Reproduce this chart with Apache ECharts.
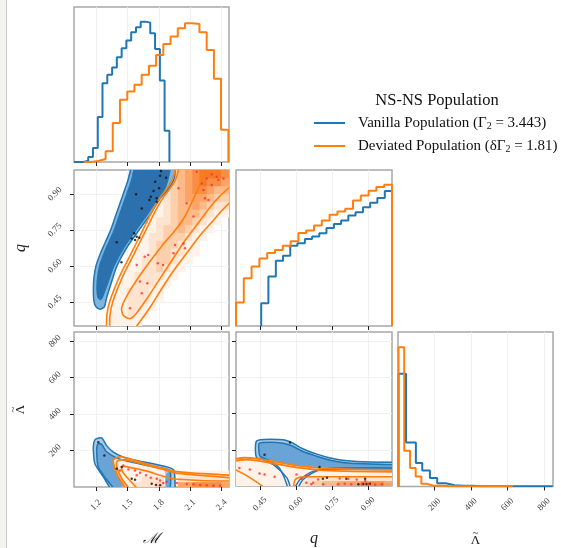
<!DOCTYPE html>
<html><head><meta charset="utf-8">
<script src="https://cdn.jsdelivr.net/npm/echarts@6/dist/echarts.min.js"></script>
<style>html,body{margin:0;padding:0;background:#fff}#c{width:561px;height:548px}</style>
</head><body><div id="c"></div>
<script>
// ---------- tick labels ----------
const mTicks = [1.2, 1.5, 1.8, 2.1, 2.4];
const qTicks = [0.45, 0.60, 0.75, 0.90];
const lamTicks = [200, 400, 600, 800];
const mRange = [0.99, 2.47];
const qRange = [0.35, 1.0];
const lamRange = [0, 850];

// ---------- 1D histograms (bin edges + heights) ----------
const vanMEdges = [0.99, 1.080, 1.126, 1.171, 1.217, 1.262, 1.308, 1.354, 1.399, 1.445, 1.490, 1.536, 1.582, 1.627, 1.673, 1.718, 1.764, 1.810, 1.855, 1.901];
const vanMCounts = [0, 4, 15, 42, 135, 237, 262, 284, 315, 342, 365, 390, 405, 422, 419, 387, 340, 245, 94];
const devMEdges = [1.085, 1.153, 1.222, 1.292, 1.360, 1.429, 1.499, 1.567, 1.636, 1.706, 1.774, 1.843, 1.912, 1.981, 2.050, 2.119, 2.188, 2.257, 2.326, 2.394, 2.464];
const devMCounts = [0, 3, 9, 32, 117, 187, 212, 232, 262, 289, 322, 355, 377, 402, 417, 415, 390, 337, 250, 97];

const vanQEdges = [0.455, 0.485, 0.516, 0.546, 0.576, 0.606, 0.637, 0.667, 0.697, 0.727, 0.758, 0.788, 0.818, 0.848, 0.879, 0.909, 0.939, 0.970, 1.0];
const vanQCounts = [68, 148, 195, 210, 240, 247, 260, 267, 277, 293, 305, 315, 330, 340, 355, 368, 382, 403];
const devQEdges = [0.350, 0.3825, 0.415, 0.4475, 0.480, 0.5125, 0.545, 0.5775, 0.610, 0.6425, 0.675, 0.7075, 0.740, 0.7725, 0.805, 0.8375, 0.870, 0.9025, 0.935, 0.9675, 1.0];
const devQCounts = [70, 143, 178, 202, 218, 227, 240, 253, 278, 285, 300, 315, 332, 342, 350, 375, 390, 404, 415, 422];

const vanLamEdges = [3, 44, 98, 133, 175, 215, 263, 311, 360, 410, 460, 510, 560, 610, 660, 710, 760, 810, 848];
const vanLamCounts = [340, 133, 71, 48, 26, 10, 4, 2, 2, 1, 1, 1, 1, 1, 1, 1, 1, 1];
const devLamEdges = [3, 34, 66, 97, 128, 160, 191, 222, 253, 285, 316, 347, 379, 410, 441, 473, 504, 535, 566, 598, 629];
const devLamCounts = [420, 108, 56, 30, 8, 3, 2, 2, 1, 1, 1, 1, 1, 1, 1, 1, 1, 1, 1, 1];
const histMax = 466;

// ---------- 2D: deviated population density grids (intensity 0..7) ----------
const heatMEdges = devMEdges.slice(1);
const heatQEdges = devQEdges;
const heatLamEdges = [0, 30, 60, 90, 120, 150];
// rows: q bins (bottom -> top), cols: M bins
const devMqGrid = [
 [0,0,1,1,1,1,1,0,0,0,0,0,0,0,0,0,0,0,0],
 [0,0,1,1,1,2,1,1,0,0,0,0,0,0,0,0,0,0,0],
 [0,0,0,1,1,2,2,1,1,0,0,0,0,0,0,0,0,0,0],
 [0,0,0,1,1,2,2,2,1,1,0,0,0,0,0,0,0,0,0],
 [0,0,0,0,1,2,2,2,1,1,0,0,0,0,0,0,0,0,0],
 [0,0,0,0,1,1,2,2,2,1,1,0,0,0,0,0,0,0,0],
 [0,0,0,0,0,1,2,2,2,2,1,1,0,0,0,0,0,0,0],
 [0,0,0,0,0,1,1,2,2,3,2,1,1,0,0,0,0,0,0],
 [0,0,0,0,0,0,1,2,2,3,3,2,1,1,0,0,0,0,0],
 [0,0,0,0,0,0,1,1,2,3,3,2,2,1,1,0,0,0,0],
 [0,0,0,0,0,0,0,1,2,3,3,3,2,1,1,0,0,0,0],
 [0,0,0,0,0,0,0,1,2,2,3,3,3,2,1,1,0,0,0],
 [0,0,0,0,0,0,0,0,1,2,3,3,4,3,2,1,1,0,0],
 [0,0,0,0,0,0,0,0,1,2,2,3,4,4,3,2,1,1,0],
 [0,0,0,0,0,0,0,0,1,1,2,3,4,4,4,3,2,1,1],
 [0,0,0,0,0,0,0,0,0,1,2,3,4,4,5,4,3,2,2],
 [0,0,0,0,0,0,0,0,0,1,2,3,4,5,5,5,4,3,3],
 [0,0,0,0,0,0,0,0,0,0,2,3,4,5,6,6,5,4,4],
 [0,0,0,0,0,0,0,0,0,0,1,3,4,5,6,7,6,6,5],
 [0,0,0,0,0,0,0,0,0,0,0,3,4,5,6,7,7,7,6]
];
// rows: Lambda bins (bottom -> top), cols: M bins
const devMLamGrid = [
 [0,0,0,0,1,1,2,2,2,3,0,0,5,5,6,6,6,6,5],
 [0,0,0,1,1,1,1,2,2,2,0,0,2,2,2,2,2,2,2],
 [0,0,0,1,1,1,1,1,1,1,1,1,1,1,1,1,1,1,1],
 [0,0,0,1,1,1,1,1,1,1,1,0,0,0,0,0,0,0,0],
 [0,0,0,1,1,1,0,0,0,0,0,0,0,0,0,0,0,0,0]
];
// rows: Lambda bins (bottom -> top), cols: q bins
const devQLamGrid = [
 [1,1,1,1,1,1,1,1,2,2,3,4,4,5,5,5,6,6,6,5],
 [1,1,1,1,1,1,1,1,1,2,2,2,2,2,2,2,2,2,2,2],
 [1,1,1,1,1,1,1,1,1,1,1,1,1,1,1,1,1,1,1,1],
 [1,1,1,1,1,1,1,1,1,1,0,0,0,0,0,0,0,0,0,0],
 [1,1,1,1,1,0,0,0,0,0,0,0,0,0,0,0,0,0,0,0]
];

// ---------- 2D contours (data coordinates) ----------
const vanMqOuter = [[1.535,1.005],[1.50,0.95],[1.46,0.90],[1.42,0.85],[1.38,0.80],[1.34,0.75],[1.29,0.70],[1.24,0.65],[1.20,0.60],[1.18,0.55],[1.175,0.50],[1.18,0.455],[1.20,0.43],[1.24,0.42],[1.28,0.43],[1.30,0.465],[1.35,0.535],[1.40,0.60],[1.49,0.674],[1.60,0.743],[1.71,0.81],[1.81,0.88],[1.87,0.91],[1.92,0.94],[1.95,0.97],[1.955,1.005]];
const vanMqInner = [[1.57,1.005],[1.535,0.95],[1.495,0.90],[1.455,0.85],[1.415,0.80],[1.375,0.75],[1.325,0.70],[1.275,0.65],[1.235,0.60],[1.215,0.55],[1.21,0.50],[1.22,0.47],[1.245,0.46],[1.265,0.475],[1.32,0.54],[1.37,0.60],[1.46,0.674],[1.57,0.743],[1.68,0.81],[1.78,0.875],[1.84,0.91],[1.88,0.95],[1.905,1.005]];
const devMqOuterLeftA = [[1.30,0.345],[1.305,0.40],[1.33,0.45],[1.38,0.51],[1.44,0.57],[1.51,0.63],[1.59,0.70],[1.67,0.77],[1.75,0.84],[1.82,0.89],[1.88,0.925],[1.93,0.96],[1.96,1.005]];
const devMqOuterLeftB = [[1.33,0.345],[1.335,0.40],[1.36,0.45],[1.41,0.51],[1.47,0.57],[1.54,0.63],[1.62,0.70],[1.70,0.77],[1.78,0.84],[1.85,0.89],[1.91,0.925],[1.96,0.96],[1.99,1.005]];
const devMqOuterRight = [[1.58,0.345],[1.64,0.38],[1.72,0.43],[1.82,0.50],[1.94,0.58],[2.06,0.65],[2.18,0.72],[2.30,0.78],[2.40,0.83],[2.48,0.865]];
const devMqInner = [[2.22,1.005],[2.19,0.94],[2.13,0.88],[2.04,0.80],[1.94,0.74],[1.84,0.69],[1.65,0.58],[1.50,0.48],[1.445,0.425],[1.46,0.395],[1.52,0.38],[1.58,0.40],[1.68,0.46],[1.80,0.54],[1.92,0.62],[2.04,0.70],[2.16,0.77],[2.28,0.84],[2.38,0.89],[2.48,0.93]];

const vanMLamFillOuter = [[1.334,0],[1.27,55],[1.19,127],[1.175,200],[1.18,245],[1.20,264],[1.254,269],[1.302,227],[1.366,191],[1.461,164],[1.589,145],[1.748,127],[1.907,105],[1.945,91],[1.955,0],[1.86,0],[1.86,80],[1.812,105],[1.652,131],[1.493,160],[1.414,164],[1.366,149],[1.376,109],[1.414,55],[1.48,0]];
const vanMLamFillInner = [[1.366,0],[1.296,45],[1.222,109],[1.207,182],[1.213,233],[1.251,236],[1.296,196],[1.366,170],[1.40,160],[1.366,149],[1.376,109],[1.414,55],[1.45,0]];
const vanMLamFillInner2 = [[1.87,0],[1.87,70],[1.91,82],[1.91,0]];
const vanMLamOuter = [[1.334,-5],[1.27,55],[1.19,127],[1.175,200],[1.18,245],[1.20,264],[1.254,269],[1.302,227],[1.366,191],[1.461,164],[1.589,145],[1.748,127],[1.907,105],[1.945,91],[1.955,-5]];
const vanMLamInner = [[1.366,-5],[1.296,45],[1.222,109],[1.207,182],[1.213,233],[1.251,236],[1.296,196],[1.382,164],[1.493,142],[1.684,118],[1.875,98],[1.91,82],[1.91,-5]];
const devMLamOuterA = [[1.48,-5],[1.414,55],[1.376,109],[1.366,149],[1.414,164],[1.493,160],[1.652,131],[1.812,105],[1.939,87],[2.13,76],[2.48,65]];
const devMLamOuterB = [[1.512,-5],[1.446,45],[1.404,100],[1.398,138],[1.446,149],[1.525,145],[1.684,120],[1.843,96],[1.955,78],[2.13,67],[2.48,51]];
const devMLamInner = [[1.589,-5],[1.509,45],[1.456,82],[1.446,113],[1.509,109],[1.684,87],[1.812,64],[1.939,45],[2.194,36],[2.48,33]];

const vanQLamFillOuter = [[0.431,191],[0.434,245],[0.451,255],[0.493,258],[0.547,255],[0.582,240],[0.631,204],[0.687,176],[0.743,155],[0.813,140],[0.911,133],[1.005,131],[1.005,89],[0.743,96],[0.605,113],[0.493,138],[0.437,151],[0.433,160]];
const vanQLamFillInner = [[0.447,236],[0.493,242],[0.547,236],[0.582,222],[0.631,189],[0.687,164],[0.743,142],[0.813,127],[1.005,118],[1.005,92],[0.743,99],[0.605,116],[0.493,141],[0.451,152],[0.445,200]];
const vanQLamOuter = [[1.005,131],[0.911,133],[0.813,140],[0.743,155],[0.687,176],[0.631,204],[0.582,240],[0.547,255],[0.493,258],[0.451,255],[0.434,245],[0.431,191],[0.437,155],[0.464,145],[0.506,118],[0.562,45],[0.576,-5]];
const vanQLamOuterLow = [[0.597,-5],[0.617,36],[0.674,82],[0.743,91],[1.005,91]];
const vanQLamInner = [[1.005,118],[0.813,127],[0.743,142],[0.687,164],[0.631,189],[0.582,222],[0.547,236],[0.493,242],[0.447,236],[0.445,200],[0.451,164],[0.49,140],[0.53,100],[0.55,50],[0.565,-5]];
const vanQLamInnerLow = [[0.61,-5],[0.63,36],[0.69,85],[0.76,98],[1.005,100]];
const devQLamOuterA = [[0.345,149],[0.386,156],[0.437,151],[0.493,138],[0.605,113],[0.743,96],[1.005,89]];
const devQLamOuterB = [[0.345,138],[0.386,145],[0.437,140],[0.493,127],[0.605,102],[0.743,85],[1.005,78]];
const devQLamInnerA = [[0.345,91],[0.386,64],[0.43,27],[0.464,-5]];
const devQLamInnerB = [[0.59,-5],[0.597,36],[0.62,49],[0.7,51],[1.005,51]];

// ---------- samples ----------
const vanMqPts = [[1.821,0.996],[1.812,0.976],[1.869,0.968],[1.765,0.951],[1.803,0.924],[1.749,0.913],[1.723,0.889],[1.780,0.882],[1.710,0.875],[1.583,0.899],[1.780,0.868],[1.637,0.840],[1.564,0.736],[1.589,0.722],[1.541,0.715],[1.573,0.708],[1.614,0.718],[1.398,0.699],[1.443,0.616]];
const devMqPts = [[2.162,0.993],[2.305,0.982],[2.353,0.972],[2.257,0.965],[2.210,0.944],[2.305,0.938],[2.226,0.917],[2.369,0.958],[2.417,0.965],[2.241,0.882],[2.273,0.875],[2.066,0.861],[1.987,0.924],[2.130,0.806],[2.035,0.694],[1.955,0.688],[1.940,0.653],[2.050,0.674],[1.840,0.604],[1.790,0.611],[1.665,0.639],[1.697,0.646],[1.589,0.604],[1.620,0.535],[1.690,0.528],[1.637,0.486],[1.525,0.424]];
const vanMLamPts = [[1.222,245],[1.28,173],[1.446,109],[1.541,45],[1.573,40],[1.732,18],[1.773,11],[1.812,9],[1.398,100]];
const devMLamPts = [[1.461,118],[1.509,96],[1.573,91],[1.621,78],[1.678,64],[1.723,51],[1.780,45],[1.812,36],[1.875,29],[1.971,22],[2.066,16],[2.130,15],[2.194,11],[2.257,9],[2.321,7],[2.385,7],[1.589,64],[1.43,91],[1.843,22]];
const vanQLamPts = [[0.575,240],[0.469,173],[0.698,105],[0.712,40],[0.729,45],[0.81,40],[0.888,40],[0.86,9],[0.88,11],[0.894,11],[0.908,13]];
const devQLamPts = [[0.364,100],[0.408,91],[0.448,69],[0.469,64],[0.511,51],[0.602,64],[0.643,58],[0.623,40],[0.643,18],[0.671,18],[0.713,9],[0.692,36],[0.782,42],[0.818,40],[0.853,36],[0.888,27],[0.775,9],[0.83,9],[0.874,11],[0.902,9],[0.93,7],[0.958,9],[0.803,13],[0.664,9]];

// ---------- styling ----------
const BLUE = '#1f77b4', ORANGE = '#ff7f0e';
const heatColors = ['rgba(0,0,0,0)', '#fff2e8', '#fee3ce', '#fdd0ac', '#fdb987', '#fca365', '#f98d44', '#f27b28'];
const SERIF = "'Liberation Serif','DejaVu Serif',serif";
const LAM_NAME = '{t|~}\n{l|Λ}';
const lamRich = {t:{fontFamily:SERIF, fontSize:11, lineHeight:3, color:'#222'}, l:{fontFamily:SERIF, fontSize:13, lineHeight:12, color:'#222'}};

const grids = [
  {left:74, top:7, width:155, height:155},
  {left:74, top:170, width:155, height:156},
  {left:74, top:332, width:155, height:156},
  {left:236, top:170, width:156, height:156},
  {left:236, top:332, width:156, height:156},
  {left:398, top:332, width:155, height:156}
].map(g => Object.assign(g, {show:true, borderColor:'#a8a8a8', borderWidth:1.5, backgroundColor:'rgba(0,0,0,0)'}));

function fmt(d){ return v => Number(v).toFixed(d); }
function valAxis(gi, range, ticks, f, showLabel, isY, name, nameStyle, gap){
  const a = {
    type:'value', gridIndex:gi, min:range[0], max:range[1],
    axisLine:{show:false},
    axisTick:{show:true, length:4, customValues:ticks, lineStyle:{color:'#222', width:1}},
    axisLabel:{show:showLabel, customValues:ticks, formatter:f, rotate:45, align:'center', verticalAlign:'middle',
      margin: isY ? 19 : 18, fontFamily:SERIF, fontSize:9, color:'#444'},
    splitLine:{show:true, lineStyle:{color:'#ededed', width:0.8}}
  };
  if (name) {
    a.name = name; a.nameLocation = 'middle'; a.nameGap = gap;
    if (isY) a.nameRotate = 90;
    a.nameTextStyle = Object.assign({fontFamily:SERIF, fontSize:15, color:'#222'}, nameStyle||{});
  }
  return a;
}
function histY(gi){ return {type:'value', gridIndex:gi, min:0, max:histMax, show:false}; }

const xAxes = [
  valAxis(0, mRange, mTicks, fmt(1), false, false),
  valAxis(1, mRange, mTicks, fmt(1), false, false),
  valAxis(2, mRange, mTicks, fmt(1), true, false, 'ℳ', {fontStyle:'italic', fontFamily:"'DejaVu Serif',serif", fontSize:15}, 45),
  valAxis(3, qRange, qTicks, fmt(2), false, false),
  valAxis(4, qRange, qTicks, fmt(2), true, false, 'q', {fontStyle:'italic', fontSize:16}, 45),
  valAxis(5, lamRange, lamTicks, fmt(0), true, false, LAM_NAME, {rich:lamRich}, 45)
];
const yAxes = [
  histY(0),
  valAxis(1, qRange, qTicks, fmt(2), true, true, 'q', {fontStyle:'italic', fontSize:16}, 45),
  valAxis(2, lamRange, lamTicks, fmt(0), true, true, LAM_NAME, {rich:lamRich}, 47),
  histY(3),
  valAxis(4, lamRange, lamTicks, fmt(0), false, true),
  histY(5)
];

function stepData(edges, counts){
  const d = [[edges[0], 0]];
  for (let i = 0; i < counts.length; i++) d.push([edges[i], counts[i]]);
  d.push([edges[counts.length], 0]);
  return d;
}
function hist(gi, name, edges, counts, color){
  return {type:'line', name:name, xAxisIndex:gi, yAxisIndex:gi, step:'end', symbol:'none', showSymbol:false,
    color:color, lineStyle:{color:color, width:2}, data:stepData(edges, counts), z:3, animation:false, silent:true, clip:true};
}
function polyFill(gi, pts, fill, z){
  return {type:'custom', xAxisIndex:gi, yAxisIndex:gi, clip:true, silent:true, animation:false, z:z, data:[[pts[0][0], pts[0][1]]],
    renderItem:(p, api) => ({type:'polygon', shape:{points:pts.map(d => api.coord(d)), smooth:0.25}, style:{fill:fill}})};
}
function polyLine(gi, pts, color, w, z){
  return {type:'custom', xAxisIndex:gi, yAxisIndex:gi, clip:true, silent:true, animation:false, z:z, data:[[pts[0][0], pts[0][1]]],
    renderItem:(p, api) => ({type:'polyline', shape:{points:pts.map(d => api.coord(d)), smooth:0.25}, style:{fill:null, stroke:color, lineWidth:w}})};
}
function heat(gi, xe, ye, grid){
  const items = [];
  for (let r = 0; r < grid.length; r++)
    for (let c = 0; c < grid[r].length; c++)
      if (grid[r][c] > 0) items.push([xe[c], ye[r], xe[c+1], ye[r+1], grid[r][c]]);
  return {type:'custom', xAxisIndex:gi, yAxisIndex:gi, clip:true, silent:true, animation:false, z:1,
    data:items, encode:{x:[0,2], y:[1,3]},
    renderItem:(p, api) => {
      const a = api.coord([api.value(0), api.value(1)]), b = api.coord([api.value(2), api.value(3)]);
      return {type:'rect', shape:{x:a[0], y:b[1], width:b[0]-a[0]+0.6, height:a[1]-b[1]+0.6}, style:{fill:heatColors[api.value(4)]}};
    }};
}
function dots(gi, pts, color, size){
  return {type:'scatter', xAxisIndex:gi, yAxisIndex:gi, data:pts, symbolSize:size, itemStyle:{color:color}, z:6, silent:true, animation:false, clip:true};
}

const series = [
  hist(0, 'vanilla', vanMEdges, vanMCounts, BLUE),
  hist(0, 'deviated', devMEdges, devMCounts, ORANGE),
  hist(3, 'vq', vanQEdges, vanQCounts, BLUE),
  hist(3, 'dq', devQEdges, devQCounts, ORANGE),
  hist(5, 'vl', vanLamEdges, vanLamCounts, BLUE),
  hist(5, 'dl', devLamEdges, devLamCounts, ORANGE),

  // M - q
  heat(1, heatMEdges, heatQEdges, devMqGrid),
  polyFill(1, vanMqOuter, '#80b3dd', 2),
  polyFill(1, vanMqInner, '#2d70ae', 2),
  polyLine(1, vanMqOuter, BLUE, 1.5, 3),
  polyLine(1, vanMqInner, BLUE, 1.5, 3),
  polyLine(1, devMqOuterLeftA, ORANGE, 1.6, 4),
  polyLine(1, devMqOuterLeftB, ORANGE, 1.6, 4),
  polyLine(1, devMqOuterRight, ORANGE, 1.6, 4),
  polyLine(1, devMqInner, ORANGE, 1.6, 4),
  dots(1, vanMqPts, '#111', 2.5),
  dots(1, devMqPts, '#ff3030', 2.5),

  // M - Lambda
  heat(2, heatMEdges, heatLamEdges, devMLamGrid),
  polyFill(2, vanMLamFillOuter, '#a9cbe8', 2),
  polyFill(2, vanMLamFillInner, '#6aa3d5', 2),
  polyFill(2, vanMLamFillInner2, '#6aa3d5', 2),
  polyLine(2, vanMLamOuter, BLUE, 1.5, 3),
  polyLine(2, vanMLamInner, BLUE, 1.5, 3),
  polyLine(2, devMLamOuterA, ORANGE, 1.8, 4),
  polyLine(2, devMLamOuterB, ORANGE, 1.8, 4),
  polyLine(2, devMLamInner, ORANGE, 1.6, 4),
  dots(2, vanMLamPts, '#111', 2.5),
  dots(2, devMLamPts, '#ff3030', 2.5),

  // q - Lambda
  heat(4, heatQEdges, heatLamEdges, devQLamGrid),
  polyFill(4, vanQLamFillOuter, '#a9cbe8', 2),
  polyFill(4, vanQLamFillInner, '#6aa3d5', 2),
  polyLine(4, vanQLamOuter, BLUE, 1.5, 3),
  polyLine(4, vanQLamOuterLow, BLUE, 1.5, 3),
  polyLine(4, vanQLamInner, BLUE, 1.5, 3),
  polyLine(4, vanQLamInnerLow, BLUE, 1.5, 3),
  polyLine(4, devQLamOuterA, ORANGE, 1.8, 4),
  polyLine(4, devQLamOuterB, ORANGE, 1.8, 4),
  polyLine(4, devQLamInnerA, ORANGE, 1.6, 4),
  polyLine(4, devQLamInnerB, ORANGE, 1.6, 4),
  dots(4, vanQLamPts, '#111', 2.5),
  dots(4, devQLamPts, '#ff3030', 2.5)
];

const chart = echarts.init(document.getElementById('c'), null, {renderer:'canvas'});
chart.setOption({
  animation:false,
  backgroundColor:'#ffffff',
  grid:grids, xAxis:xAxes, yAxis:yAxes, series:series,
  legend:{
    orient:'vertical', left:309, top:110, itemWidth:31, itemHeight:2, itemGap:7, icon:'rect',
    data:['vanilla','deviated'], selectedMode:false,
    formatter: n => n === 'vanilla' ? 'Vanilla Population (Γ{s|2} = 3.443)' : 'Deviated Population (δΓ{s|2} = 1.81)',
    textStyle:{fontFamily:SERIF, fontSize:15, color:'#111', lineHeight:16, padding:[0,0,0,8],
      rich:{s:{fontFamily:SERIF, fontSize:10, lineHeight:10, verticalAlign:'bottom', color:'#111'}}}
  },
  graphic:[
    {type:'rect', shape:{x:0, y:0, width:6, height:548}, style:{fill:'#f3f3f1'}, silent:true},
    {type:'line', shape:{x1:6.5, y1:0, x2:6.5, y2:548}, style:{stroke:'#c9c9c9', lineWidth:1}, silent:true},
    {type:'text', x:437, y:101, style:{text:'NS-NS Population', font:"16.5px 'Liberation Serif','DejaVu Serif',serif", fill:'#111', align:'center', verticalAlign:'middle'}, silent:true}
  ]
});
</script></body></html>
